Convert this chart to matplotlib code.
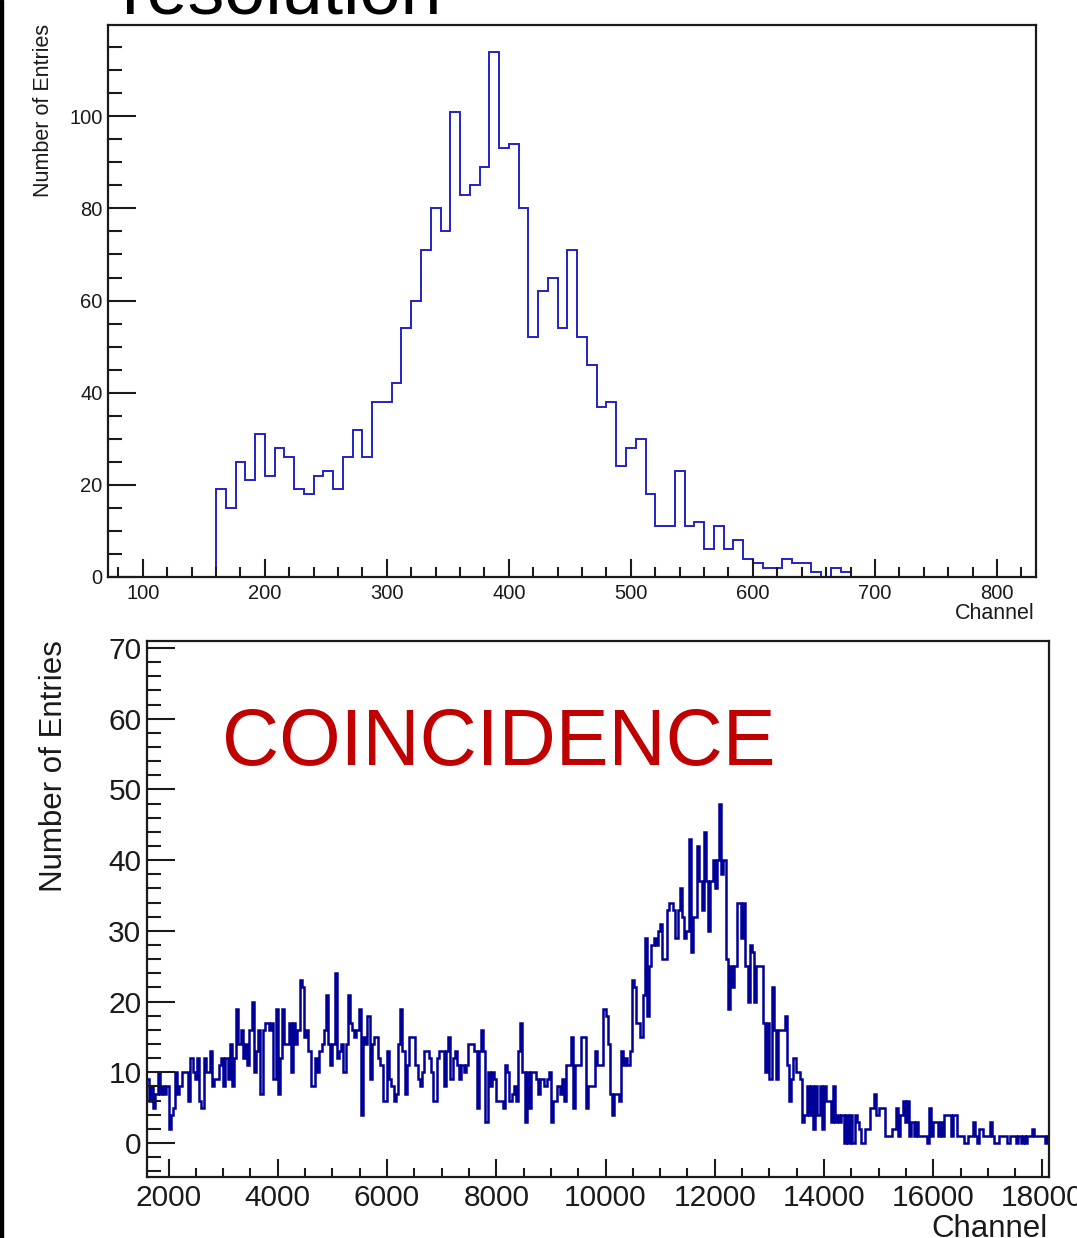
import numpy as np
import matplotlib.pyplot as plt
from matplotlib.ticker import MultipleLocator
from matplotlib.patches import Rectangle

# --------------------------------------------------
# 1. Data
# --------------------------------------------------
# top panel: single detector, 8-channel bins starting at 160
top_start = 160
top_width = 8
top_counts = [
    19, 15, 25, 21, 31, 22, 28, 26, 19, 18,
    22, 23, 19, 26, 32, 26, 38, 38, 42, 54,
    60, 71, 80, 75, 101, 83, 85, 89, 114, 93,
    94, 80, 52, 62, 65, 54, 71, 52, 46, 37,
    38, 24, 28, 30, 18, 11, 11, 23, 11, 12,
    6, 11, 6, 8, 4, 3, 2, 2, 4, 3,
    3, 1, 0, 2, 1,
]

# bottom panel: coincidence spectrum, 40-channel bins starting at 1600
coin_start = 1600
coin_width = 40
coin_counts = [
    # 1600 - 5760
    9, 6, 8, 5, 7, 10, 7, 8, 7, 8,
    2, 4, 5, 10, 7, 8, 10, 10, 10, 6,
    12, 10, 9, 12, 6, 5, 12, 10, 10, 13,
    8, 9, 9, 11, 12, 8, 12, 9, 14, 8,
    12, 19, 14, 16, 12, 14, 11, 16, 20, 10,
    13, 16, 7, 16, 17, 17, 16, 17, 9, 19,
    7, 12, 19, 14, 14, 17, 10, 17, 14, 16,
    23, 22, 15, 16, 13, 8, 8, 12, 10, 13,
    14, 16, 21, 14, 11, 14, 24, 12, 13, 14,
    10, 14, 21, 17, 16, 15, 16, 19, 4, 15,
    14, 18, 9, 14,
    # 5760 - 10000
    15, 15, 12, 11, 6, 6, 13, 9, 8, 6,
    7, 14, 19, 13, 7, 11, 15, 15, 15, 11,
    9, 8, 10, 13, 13, 12, 10, 6, 6, 12,
    13, 13, 8, 13, 15, 9, 12, 13, 11, 9,
    11, 10, 11, 14, 14, 14, 13, 5, 13, 16,
    13, 3, 10, 8, 10, 9, 6, 6, 6, 5,
    11, 10, 6, 7, 8, 6, 13, 17, 10, 3,
    10, 5, 10, 10, 9, 7, 9, 9, 8, 9,
    10, 3, 6, 6, 8, 7, 9, 6, 11, 11,
    15, 5, 11, 11, 11, 15, 15, 5, 8, 8,
    8, 13, 11, 11, 11, 19,
    # 10000 - 14200
    18, 14, 7, 4, 7, 7, 6, 13, 11, 12,
    11, 13, 23, 22, 17, 17, 15, 21, 29, 18,
    25, 28, 29, 28, 30, 31, 26, 26, 33, 34,
    34, 33, 29, 33, 36, 32, 29, 30, 43, 27,
    32, 32, 42, 37, 33, 44, 37, 30, 37, 40,
    36, 40, 48, 38, 40, 26, 19, 25, 22, 25,
    34, 34, 29, 34, 25, 20, 28, 27, 20, 25,
    25, 25, 17, 10, 17, 9, 22, 16, 9, 16,
    16, 16, 18, 11, 6, 9, 12, 10, 10, 9,
    3, 4, 8, 4, 8, 2, 8, 4, 8, 2,
    8, 6, 6, 3, 8,
    # 14200 - 18120
    3, 4, 3, 4, 0, 4, 0, 4, 0, 4,
    3, 2, 0, 0, 2, 2, 5, 5, 7, 4,
    5, 5, 5, 1, 1, 1, 2, 2, 5, 1,
    4, 6, 3, 6, 1, 3, 1, 3, 1, 1,
    1, 1, 0, 5, 1, 3, 3, 1, 3, 1,
    4, 4, 4, 1, 4, 4, 1, 1, 1, 0,
    0, 1, 1, 3, 1, 0, 2, 2, 1, 1,
    1, 3, 1, 0, 0, 1, 1, 1, 1, 0,
    1, 1, 1, 0, 1, 0, 1, 0, 1, 1,
    2, 1, 1, 1, 1, 1, 0, 1,
]

top_edges = top_start + top_width * np.arange(len(top_counts) + 1)
coin_edges = coin_start + coin_width * np.arange(len(coin_counts) + 1)

# --------------------------------------------------
# 2. Figure and axes (pixel boxes of the screenshot)
# --------------------------------------------------
W, H = 1077, 1238
plt.rcParams['font.family'] = ['Liberation Sans', 'DejaVu Sans']

fig = plt.figure(figsize=(W / 100, H / 100), dpi=100)


def px_box(left, top, right, bottom):
    return [left / W, 1 - bottom / H, (right - left) / W, (bottom - top) / H]


ax1 = fig.add_axes(px_box(108, 25, 1036, 577))
ax2 = fig.add_axes(px_box(147, 641, 1049, 1177))

ink = "#1a1a1a"


def root_style(ax, xmaj, xmin_, ymaj, ymin_, size, ylen, xlen):
    for spine in ax.spines.values():
        spine.set_linewidth(1.6)
        spine.set_color(ink)
    ax.xaxis.set_major_locator(MultipleLocator(xmaj))
    ax.xaxis.set_minor_locator(MultipleLocator(xmin_))
    ax.yaxis.set_major_locator(MultipleLocator(ymaj))
    ax.yaxis.set_minor_locator(MultipleLocator(ymin_))
    ax.tick_params(which="both", direction="in", top=False, right=False,
                   color=ink, labelcolor=ink, width=1.5, labelsize=size)
    ax.tick_params(axis="y", which="major", length=ylen[0], pad=4)
    ax.tick_params(axis="y", which="minor", length=ylen[1])
    ax.tick_params(axis="x", which="major", length=xlen[0], pad=5)
    ax.tick_params(axis="x", which="minor", length=xlen[1])


# --------------------------------------------------
# 3. Top spectrum
# --------------------------------------------------
ax1.stairs(top_counts, top_edges, baseline=0, color="#2323c8", linewidth=1.4)
ax1.set_xlim(71.5, 832)
ax1.set_ylim(0, 119.8)
root_style(ax1, 100, 20, 20, 5, 14.5, (20, 10), (13, 7))

fig.text(44 / W, 1 - 24 / H, "Number of Entries", rotation=90,
         ha="center", va="top", fontsize=15.5, color=ink)
fig.text(1035 / W, 1 - 603 / H, "Channel", ha="right", va="top",
         fontsize=15.5, color=ink)

# --------------------------------------------------
# 4. Coincidence spectrum
# --------------------------------------------------
ax2.stairs(coin_counts, coin_edges, baseline=None, color="#000099", linewidth=1.8)
ax2.set_xlim(1605, 18120)
ax2.set_ylim(-4.8, 71.0)
root_style(ax2, 2000, 500, 10, 2, 21.5, (20, 10), (13, 6.5))

fig.text(54 / W, 1 - 640 / H, "Number of Entries", rotation=90,
         ha="center", va="top", fontsize=22.5, color=ink)
fig.text(1048 / W, 1 - 1214 / H, "Channel", ha="right", va="top",
         fontsize=22.5, color=ink)
fig.text(222 / W, 1 - 765 / H, "COINCIDENCE", ha="left", va="baseline",
         fontsize=57, color="#c00000")

# cut-off slide title and the dark edge of the screenshot
fig.text(122 / W, 1 - 13 / H, "resolution", ha="left", va="baseline",
         fontsize=53, color="black")
fig.patches.append(Rectangle((0, 0), 3.5 / W, 1, transform=fig.transFigure,
                             color="black", zorder=10))

fig.savefig("out.png", dpi=100)
plt.close(fig)
